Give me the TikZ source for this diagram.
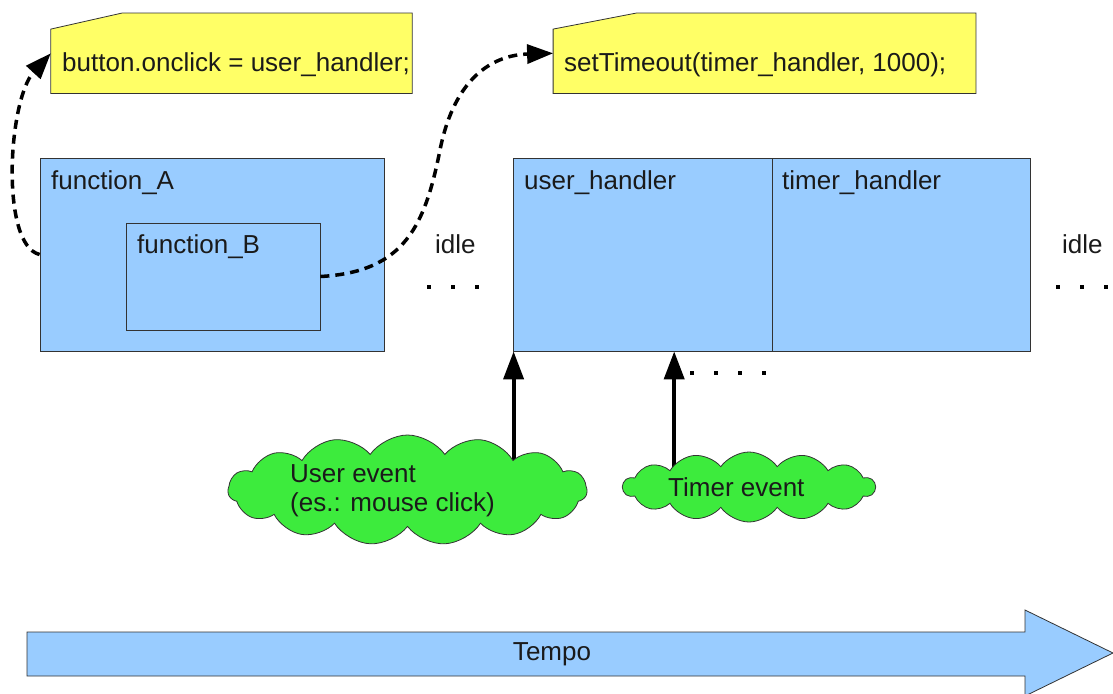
\documentclass[tikz,border=0pt]{standalone}
\usepackage{fontspec}
\setmainfont{Liberation Sans}
\usetikzlibrary{arrows.meta,shapes.symbols,backgrounds,calc}
\definecolor{boxblue}{HTML}{99CCFF}
\definecolor{codeyellow}{HTML}{FFFF66}
\definecolor{cloudgreen}{HTML}{3DEB3D}
\definecolor{edgegray}{HTML}{333333}
\definecolor{txtcol}{HTML}{1A1A1A}
\begin{document}
\begin{tikzpicture}[x=1pt,y=-1pt,
  font=\fontsize{26}{29}\selectfont, text=txtcol,
  bluebox/.style={draw=edgegray, line width=0.8pt, fill=boxblue, inner sep=0pt},
  codebox/.style={draw=edgegray, line width=0.8pt, fill=codeyellow},
  lbl/.style={inner sep=0pt, anchor=base west},
  evcloud/.style={cloud, cloud ignores aspect, cloud puff arc=110, fill=cloudgreen, draw=edgegray, line width=0.8pt, inner sep=0pt},
  dashcurve/.style={line width=3.5pt, dash pattern=on 9pt off 6pt, -{Triangle[length=26pt,width=19pt]}},
  evarrow/.style={line width=4pt, -{Triangle[length=28pt,width=20pt]}},
  dotmark/.style={fill=black}]
\useasboundingbox (0,0) rectangle (1113,693);

% code boxes (yellow, cut corner)
\node[inner sep=0pt, minimum width=361pt, minimum height=80pt] (code1) at (231.5,53.3) {};
\node[inner sep=0pt, minimum width=422.4pt, minimum height=80pt] (code2) at (764.5,53.3) {};
\draw[codebox] (code1.south west) -- (code1.south east) -- (code1.north east)
  -- ([xshift=71pt]code1.north west) -- ([yshift=-16pt]code1.north west) -- cycle;
\draw[codebox] (code2.south west) -- (code2.south east) -- (code2.north east)
  -- ([xshift=83pt]code2.north west) -- ([yshift=-16pt]code2.north west) -- cycle;
\node[lbl] (code1txt) at (62,71) {button.onclick = user\_handler;};
\node[lbl] (code2txt) at (564,71) {setTimeout(timer\_handler, 1000);};

% function boxes
\node[bluebox, minimum width=344pt, minimum height=193pt] (fa) at (212,254.5) {};
\node[bluebox, minimum width=194pt, minimum height=107pt] (fb) at (223,276.5) {};
\node[lbl] (fatxt) at (51,189) {function\_A};
\node[lbl] (fbtxt) at (137,253) {function\_B};

% handlers
\node[bluebox, minimum width=259pt, minimum height=193pt] (uh) at (642.5,254.5) {};
\node[bluebox, minimum width=258pt, minimum height=193pt] (th) at (901,254.5) {};
\node[lbl] (uhtxt) at (524,189) {user\_handler};
\node[lbl] (thtxt) at (782,189) {timer\_handler};

% idle labels and dots
\node[lbl] (idle1) at (435,253) {idle};
\node[lbl] (idle2) at (1062,253) {idle};
\foreach \x in {429,453,477} \fill[dotmark] (\x-2,285) rectangle ++(4,4);
\foreach \x in {1058,1082,1106} \fill[dotmark] (\x-2,285) rectangle ++(4,4);
\foreach \x in {692,716,740,764} \fill[dotmark] (\x-2,371) rectangle ++(4,4);

% dashed curves
\draw[dashcurve] (fa.west) .. controls (0,245) and (8,100) .. (code1.west);
\draw[dashcurve] (fb.east) .. controls (405,272) and (425,225) .. (440,150)
  .. controls (455,75) and (495,55) .. (code2.west);

% event clouds
\node[evcloud, cloud puffs=15, minimum width=359pt, minimum height=110pt] (ue) at (407.5,490) {};
\node[inner sep=0pt, align=left, anchor=west] (uetxt) at (290,491) {User event\\(es.: mouse click)};
\node[evcloud, cloud puffs=14, minimum width=252pt, minimum height=70pt] (te) at (749,487) {};
\node[inner sep=0pt, anchor=west] (tetxt) at (668,487) {Timer event};

\begin{scope}[on background layer]
\draw[evarrow] (ue.center -| uh.south west) ++(1pt,0) -- ([xshift=1pt]uh.south west);
\coordinate (tpt) at ($(uh.south west)!0.622!(uh.south east)$);
\draw[evarrow] (te.center -| tpt) -- (tpt);
\end{scope}

% time arrow
\node[inner sep=0pt] (tempo) at (552,654) {Tempo};
\begin{scope}[on background layer]
\draw[bluebox] (27,632) -- (1025,632) -- (1025,610) -- (1113,653) -- (1025,696) -- (1025,676) -- (27,676) -- cycle;
\end{scope}
\end{tikzpicture}
\end{document}
